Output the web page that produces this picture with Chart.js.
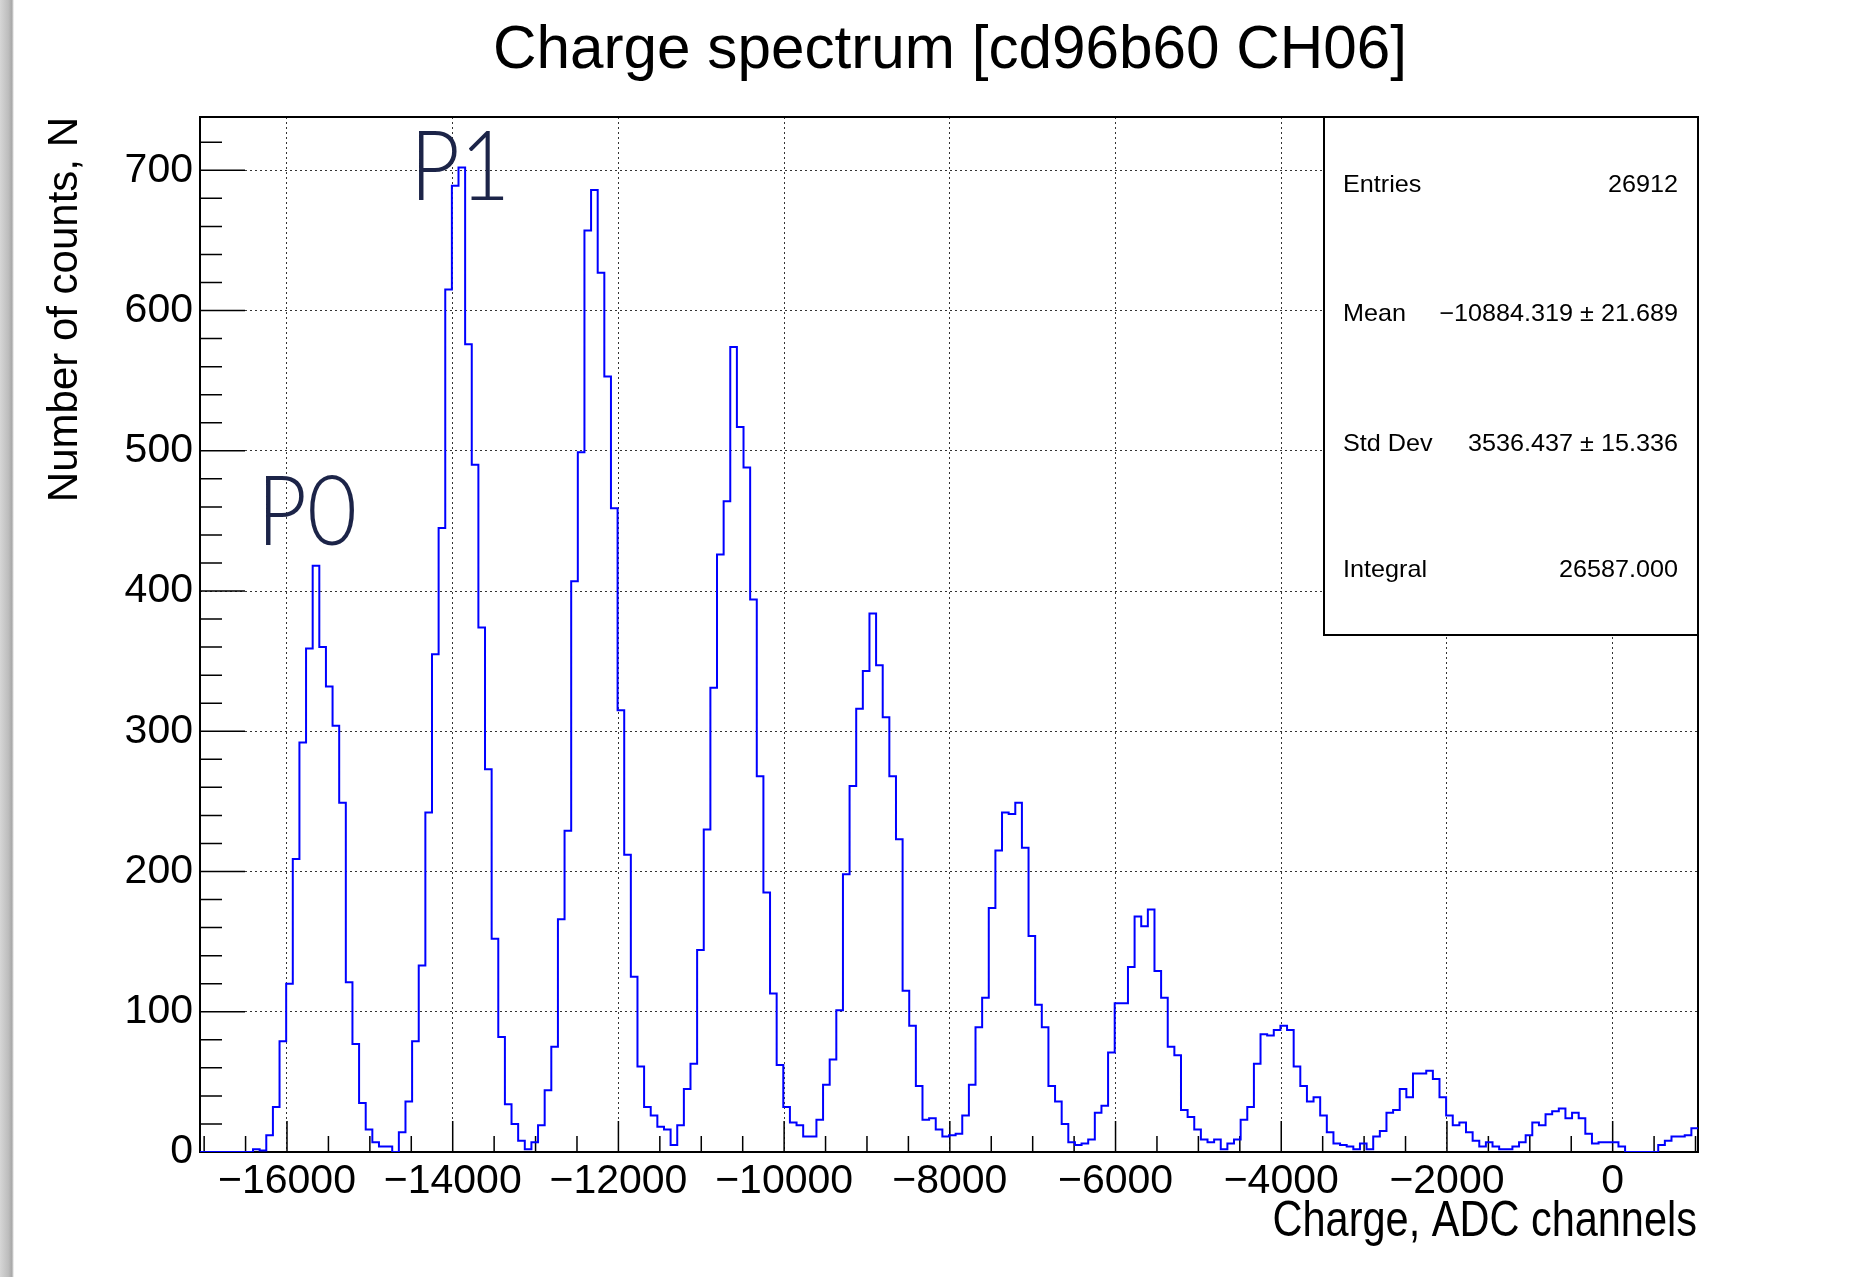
<!DOCTYPE html>
<html>
<head>
<meta charset="utf-8">
<script src="https://cdn.jsdelivr.net/npm/chart.js@4.4.1/dist/chart.umd.min.js"></script>
<style>
  html, body { margin: 0; padding: 0; background: #ffffff; }
  #wrap { position: relative; width: 1870px; height: 1277px; }
  canvas { display: block; }
</style>
</head>
<body>
<div id="wrap"><canvas id="c"></canvas></div>
<script>
// ---------------- data ----------------
const chartTitle = 'Charge spectrum [cd96b60 CH06]';
const xAxisTitle = 'Charge, ADC channels';
const yAxisTitle = 'Number of counts, N';

// histogram binning (ADC channels)
const histLow = -17050;
const binWidth = 80;
const histHigh = 1030;

// counts per bin (226 bins)
const counts = [
  0, 0, 0, 0, 0, 0, 0, 0, 2, 1,
  12, 32, 79, 120, 209, 292, 359, 418, 360, 332,
  304, 249, 121, 77, 35, 16, 7, 4, 4, 0,
  14, 36, 79, 133, 242, 355, 445, 615, 689, 702,
  576, 490, 374, 273, 152, 82, 34, 20, 8, 2,
  7, 19, 44, 75, 166, 229, 407, 499, 657, 686,
  627, 553, 459, 315, 212, 125, 61, 32, 26, 18,
  16, 5, 19, 45, 63, 144, 230, 331, 426, 464,
  574, 517, 488, 394, 268, 185, 113, 62, 32, 21,
  19, 11, 11, 23, 48, 66, 101, 198, 261, 316,
  343, 384, 347, 310, 268, 223, 115, 90, 47, 23,
  24, 16, 11, 12, 13, 26, 48, 89, 110, 174,
  215, 242, 241, 249, 217, 154, 105, 89, 47, 36,
  20, 7, 5, 6, 9, 28, 33, 71, 106, 106,
  132, 168, 161, 173, 129, 110, 75, 69, 30, 25,
  16, 9, 7, 9, 2, 6, 9, 23, 32, 63,
  84, 83, 87, 90, 87, 61, 47, 36, 39, 26,
  14, 6, 5, 4, 2, 6, 2, 11, 15, 28,
  30, 45, 39, 56, 56, 58, 52, 39, 26, 19,
  21, 14, 8, 4, 7, 4, 2, 2, 4, 7,
  12, 21, 19, 27, 29, 31, 24, 28, 24, 13,
  6, 7, 7, 7, 4, 0, 0, 0, 0, 0,
  5, 8, 11, 11, 12, 17
];

const yMax = 738;
const xTickValues = [-16000, -14000, -12000, -10000, -8000, -6000, -4000, -2000, 0];
const yTickValues = [0, 100, 200, 300, 400, 500, 600, 700];

const statsLabels = ['Entries', 'Mean', 'Std Dev', 'Integral'];
const statsValues = ['26912', '\u221210884.319 \u00b1 21.689', '3536.437 \u00b1 15.336', '26587.000'];

const peakLabels = ['P0', 'P1'];

// ---------------- helpers ----------------
const FONT = '"Liberation Sans", Arial, Helvetica, sans-serif';
function fmtTick(v) {
  return v < 0 ? '\u2212' + Math.abs(v) : String(v);
}

// step outline points: each bin's low edge carries its count, final point closes last bin
const histPoints = counts.map((c, i) => ({ x: histLow + i * binWidth, y: c }));
histPoints.push({ x: histLow + counts.length * binWidth, y: counts[counts.length - 1] });

// ---------------- plugins ----------------
const rootStyle = {
  id: 'rootStyle',
  beforeDraw(chart) {
    const { ctx, width, height } = chart;
    ctx.save();
    ctx.fillStyle = '#ffffff';
    ctx.fillRect(0, 0, width, height);
    const g = ctx.createLinearGradient(0, 0, 14, 0);
    g.addColorStop(0, '#d6d6d6');
    g.addColorStop(0.6, '#bdbdbd');
    g.addColorStop(0.85, '#a8a8a8');
    g.addColorStop(1, '#ffffff');
    ctx.fillStyle = g;
    ctx.fillRect(0, 0, 14, height);
    ctx.restore();
  },
  beforeDatasetsDraw(chart) {
    const { ctx, chartArea: a, scales } = chart;
    const xs = scales.x, ys = scales.y;
    ctx.save();
    ctx.strokeStyle = '#000';
    ctx.lineWidth = 1.5;
    ctx.beginPath();
    // y ticks (inward)
    for (let v = 0; v <= ys.max; v += 20) {
      const py = ys.getPixelForValue(v);
      const len = (v % 100 === 0) ? 45 : 22;
      ctx.moveTo(a.left, py);
      ctx.lineTo(a.left + len, py);
    }
    // x ticks (inward)
    for (let v = Math.ceil(xs.min / 500) * 500; v <= xs.max; v += 500) {
      const px = xs.getPixelForValue(v);
      const len = (v % 2000 === 0) ? 31 : 16;
      ctx.moveTo(px, a.bottom);
      ctx.lineTo(px, a.bottom - len);
    }
    ctx.stroke();
    // frame
    ctx.lineWidth = 2;
    ctx.strokeRect(a.left, a.top, a.right - a.left, a.bottom - a.top);
    ctx.restore();
  },
  afterDatasetsDraw(chart) {
    const { ctx, chartArea: a, scales } = chart;
    const xs = scales.x, ys = scales.y;
    ctx.save();
    // stats box
    const bx = a.right - 374, by = a.top, bw = 374, bh = 518;
    ctx.fillStyle = '#ffffff';
    ctx.fillRect(bx, by, bw, bh);
    ctx.strokeStyle = '#000';
    ctx.lineWidth = 2;
    ctx.strokeRect(bx, by, bw, bh);
    ctx.fillStyle = '#000';
    ctx.font = '24px ' + FONT;
    ctx.textBaseline = 'alphabetic';
    const rowBase = [75, 204, 334, 460];
    statsLabels.forEach((lab, i) => {
      ctx.save();
      ctx.translate(bx + 19, by + rowBase[i]);
      ctx.scale(1.05, 1);
      ctx.textAlign = 'left';
      ctx.fillText(lab, 0, 0);
      ctx.restore();
      ctx.save();
      ctx.translate(bx + 354, by + rowBase[i]);
      ctx.scale(1.05, 1);
      ctx.textAlign = 'right';
      ctx.fillText(statsValues[i], 0, 0);
      ctx.restore();
    });
    // peak annotations (anchored in data coordinates)
    ctx.fillStyle = '#1c2448';
    ctx.font = '300 96px Lato, "Open Sans", "Noto Sans", sans-serif';
    ctx.textAlign = 'left';
    const anchors = [[-16362, 433], [-14515, 679]];
    peakLabels.forEach((t, i) => {
      ctx.save();
      ctx.translate(xs.getPixelForValue(anchors[i][0]), ys.getPixelForValue(anchors[i][1]));
      ctx.scale(0.9, 1);
      ctx.fillText(t, 0, 0);
      ctx.restore();
    });
    ctx.restore();
  },
  afterDraw(chart) {
    const { ctx, chartArea: a } = chart;
    ctx.save();
    ctx.fillStyle = '#000';
    // main title
    ctx.font = '61px ' + FONT;
    ctx.textBaseline = 'alphabetic';
    ctx.textAlign = 'center';
    const tw = ctx.measureText(chartTitle).width;
    ctx.save();
    ctx.translate(950, 68);
    ctx.scale(914 / tw, 1);
    ctx.fillText(chartTitle, 0, 0);
    ctx.restore();
    // x axis title (right aligned to frame)
    ctx.font = '50px ' + FONT;
    ctx.textAlign = 'right';
    ctx.save();
    ctx.translate(a.right - 1, 1236);
    ctx.scale(0.83, 1);
    ctx.fillText(xAxisTitle, 0, 0);
    ctx.restore();
    // y axis title (rotated, aligned to top of frame)
    ctx.font = '42px ' + FONT;
    ctx.save();
    ctx.translate(77, a.top);
    ctx.rotate(-Math.PI / 2);
    ctx.textAlign = 'right';
    ctx.fillText(yAxisTitle, 0, 0);
    ctx.restore();
    ctx.restore();
  }
};

// ---------------- chart ----------------
const ctx = document.getElementById('c');
new Chart(ctx, {
  type: 'line',
  data: {
    datasets: [{
      data: histPoints,
      stepped: true,
      borderColor: '#0000ff',
      borderWidth: 2,
      pointRadius: 0,
      fill: false,
      tension: 0
    }]
  },
  options: {
    responsive: true,
    maintainAspectRatio: false,
    devicePixelRatio: 1,
    animation: false,
    parsing: false,
    normalized: true,
    layout: { padding: { top: 117, right: 172, left: 0, bottom: 0 } },
    plugins: { legend: { display: false }, tooltip: { enabled: false }, title: { display: false } },
    scales: {
      x: {
        type: 'linear',
        min: histLow,
        max: histHigh,
        afterBuildTicks: (s) => { s.ticks = xTickValues.map(v => ({ value: v })); },
        ticks: {
          autoSkip: false,
          maxRotation: 0,
          minRotation: 0,
          padding: 5,
          color: '#000',
          font: { family: FONT, size: 41 },
          callback: (v) => fmtTick(v)
        },
        grid: { display: true, drawTicks: false, color: 'rgba(0,0,0,0.8)', lineWidth: 1 },
        border: { display: false, dash: [2, 3] },
        afterFit: (s) => { s.height = 125; }
      },
      y: {
        type: 'linear',
        min: 0,
        max: yMax,
        afterBuildTicks: (s) => { s.ticks = yTickValues.map(v => ({ value: v })); },
        ticks: {
          autoSkip: false,
          padding: 7,
          color: '#000',
          font: { family: FONT, size: 41 },
          callback: (v) => fmtTick(v)
        },
        grid: { display: true, drawTicks: false, color: 'rgba(0,0,0,0.8)', lineWidth: 1 },
        border: { display: false, dash: [2, 3] },
        afterFit: (s) => { s.width = 200; }
      }
    }
  },
  plugins: [rootStyle]
});
</script>
</body>
</html>
